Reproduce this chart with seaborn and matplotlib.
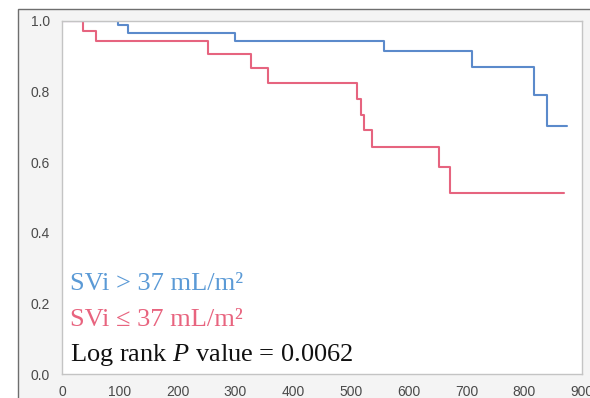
import matplotlib
matplotlib.use("Agg")
import matplotlib.pyplot as plt
import seaborn as sns
import pandas as pd
from matplotlib.patches import Rectangle

# Kaplan-Meier step data
blue_days = [0, 97, 115, 300, 557, 709, 817, 840, 874]
blue_surv = [1.0, 0.988, 0.966, 0.943, 0.914, 0.870, 0.790, 0.703, 0.703]
red_days = [0, 36, 59, 253, 327, 357, 510, 517, 522, 536, 653, 672, 869]
red_surv = [1.0, 0.972, 0.943, 0.907, 0.867, 0.825, 0.780, 0.734, 0.691, 0.643, 0.586, 0.513, 0.513]
group_labels = ["SVi > 37 mL/m\u00b2", "SVi \u2264 37 mL/m\u00b2"]
pvalue_text = "Log rank $\\mathit{P}$ value = 0.0062"
x_ticks = [0, 100, 200, 300, 400, 500, 600, 700, 800, 900]
y_ticks = [0.0, 0.2, 0.4, 0.6, 0.8, 1.0]

blue_c = "#5b8acb"
red_c = "#e6647f"

sns.set_style("white")
plt.rcParams["font.family"] = ["Liberation Sans", "DejaVu Sans"]
plt.rcParams["mathtext.fontset"] = "custom"
plt.rcParams["mathtext.rm"] = "Liberation Serif"
plt.rcParams["mathtext.it"] = "Liberation Serif:italic"

df = pd.concat([
    pd.DataFrame({"day": blue_days, "surv": blue_surv, "grp": group_labels[0]}),
    pd.DataFrame({"day": red_days, "surv": red_surv, "grp": group_labels[1]}),
])

W, H = 590, 398
fig = plt.figure(figsize=(W / 100, H / 100), dpi=100)
fig.patch.set_facecolor("white")
fig.patches.append(Rectangle((18 / W, -0.05), 1.1, 1 - 9 / H + 0.05, transform=fig.transFigure,
                             facecolor="#f4f4f4", edgecolor="#6e6e6e", linewidth=1.0, zorder=-10))

ax = fig.add_axes([62 / W, 1 - 374 / H, 520 / W, 353 / H])
ax.set_zorder(5)
ax.set_facecolor("white")
sns.lineplot(data=df, x="day", y="surv", hue="grp", palette=[blue_c, red_c],
             drawstyle="steps-post", linewidth=1.5, legend=False, ax=ax, estimator=None)

ax.set_xlim(0, 900)
ax.set_ylim(0, 1.0)
ax.set_xticks(x_ticks)
ax.set_yticks(y_ticks)
ax.set_yticks([0.1, 0.3, 0.5, 0.7, 0.9], minor=True)
ax.set_xticklabels([str(t) for t in x_ticks])
ax.set_yticklabels([f"{t:.1f}" for t in y_ticks])
ax.set_xlabel("")
ax.set_ylabel("")
for s in ax.spines.values():
    s.set_color("#c4c4c4")
    s.set_linewidth(1.0)
ax.tick_params(axis="both", which="both", colors="#b8b8b8", labelcolor="#4a4a4a",
               labelsize=10, width=0.8)
ax.tick_params(axis="y", which="major", length=4.5, direction="out", pad=4)
ax.tick_params(axis="y", which="minor", length=3, direction="out")
ax.tick_params(axis="x", which="major", length=3, direction="in", pad=8)

txt_kw = dict(fontsize=19, family="Liberation Serif", va="center", ha="left")
ax.text(14, 0.254, group_labels[0], color="#5b9ad6", **txt_kw)
ax.text(14, 0.153, group_labels[1], color="#e8647f", **txt_kw)
ax.text(14, 0.054, pvalue_text, color="#111111", **txt_kw)

fig.savefig("out.png", dpi=100)
